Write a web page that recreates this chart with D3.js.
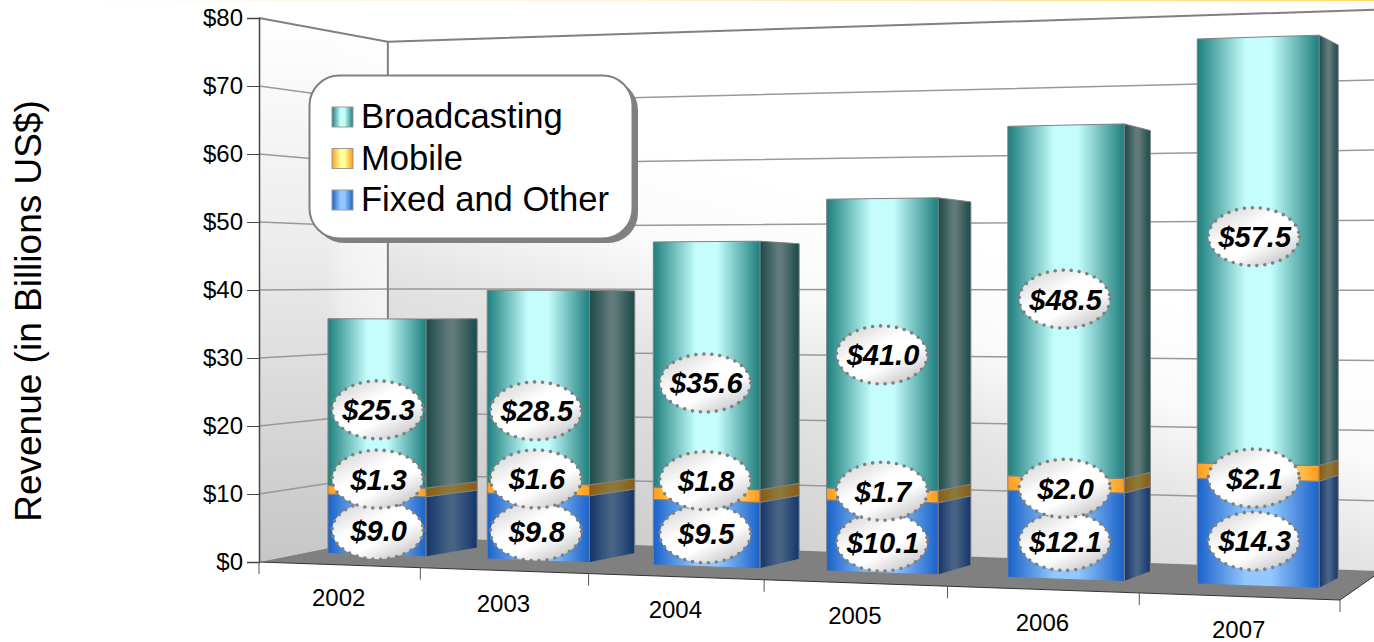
<!DOCTYPE html>
<html>
<head>
<meta charset="utf-8">
<script src="https://cdn.jsdelivr.net/npm/d3@7/dist/d3.min.js"></script>
<style>
html,body{margin:0;padding:0;background:#fff;overflow:hidden}
svg{display:block}
text{font-family:"Liberation Sans",Arial,sans-serif;fill:#000}
</style>
</head>
<body>
<svg id="c" width="1374" height="642"></svg>
<script>
// ---- data ----
const categories = ["2002","2003","2004","2005","2006","2007"];
const fixedValues = [9.0,9.8,9.5,10.1,12.1,14.3];
const mobileValues = [1.3,1.6,1.8,1.7,2.0,2.1];
const broadcastValues = [25.3,28.5,35.6,41.0,48.5,57.5];
const yTicks = [0,10,20,30,40,50,60,70,80];
const legendNames = ["Broadcasting","Mobile","Fixed and Other"];
// nudges (px) of the value bubbles from the middle of their segments
const fixedNudge = [5,4,0,5,6,8];
const mobileNudge = [-12,-10,-14,-4,4,6];
const broadcastNudge = [7,24,18,11,-2,-14];
const bubbleShift = [1,-2,-1,0,-1,-4];

// ---- projection ----
const svg = d3.select("#c");
const W = 1374, H = 642;
const VP = [1850,311];                // vanishing point of the depth direction
const R = 1.14, RH = 1.145;           // perspective ratio along the floor, and for heights
const axisY = d3.scaleLinear().domain([0,80]).range([562,18]);
const frontX = d3.scaleLinear().domain([0,1]).range([259,1340]);
const barX = d3.scaleLinear().domain([0,1]).range([257,1344]);
const frontEdgeY = d3.scaleLinear().domain([259,1340]).range([562,600]);
const lerp = (p,f)=>[p[0]+(VP[0]-p[0])*f, p[1]+(VP[1]-p[1])*f];
const persp = t => t/(t+(1-t)*R);

// u: position in category units (0..6); v: value; depth: fraction toward VP
const BAR_DEPTH = 0.026, SIDE_DEPTH = 0.036, GAP = 0.19, LIFT = 3.0, UNIT = 7.72;
function barPoint(u,v){
  const t = u/6, xf = barX(persp(t));
  const y = frontEdgeY(xf) - UNIT*v/(RH-(RH-1)*t);
  const p = lerp([xf,y],BAR_DEPTH);
  return [p[0],p[1]-LIFT];
}
const sidePoint = p => lerp(p,SIDE_DEPTH);

// walls
const WALL_DEPTH = 0.081;
const backLeftTop = lerp([259,axisY(80)],WALL_DEPTH);
const backLeftBot = lerp([259,axisY(0)-6],WALL_DEPTH);
const backRightTop = lerp([1340,-17],WALL_DEPTH);
const backRightBot = lerp([1340,600-6],WALL_DEPTH);
const backY = (x,v)=>{
  const f=(x-backLeftTop[0])/(backRightTop[0]-backLeftTop[0]);
  const top=backLeftTop[1]+(backRightTop[1]-backLeftTop[1])*f;
  const bot=backLeftBot[1]+(backRightBot[1]-backLeftBot[1])*f;
  return d3.scaleLinear().domain([0,80]).range([bot,top])(v);
};
const poly = pts => "M"+pts.map(p=>p.join(",")).join("L")+"Z";

// ---- gradients ----
const defs = svg.append("defs");
function hGrad(id,edge,mid,flat){
  const g=defs.append("linearGradient").attr("id",id).attr("x1",0).attr("x2",1).attr("y1",0).attr("y2",0);
  [[0,edge],[flat[0],mid],[flat[1],mid],[1,edge]].forEach(s=>g.append("stop").attr("offset",s[0]).attr("stop-color",s[1]));
}
const FLAT=[0.4,0.6];
hGrad("frontB","#1d7f7d","#c5fdfd",FLAT);
hGrad("frontM","#ff9a1c","#ffff99",FLAT);
hGrad("frontF","#1a62c8","#93c8ff",FLAT);
hGrad("sideB","#1a4a48","#627a7a",[0.45,0.55]);
hGrad("sideM","#8a5a10","#8c7a3a",[0.45,0.55]);
hGrad("sideF","#14346c","#476484",[0.45,0.55]);
function userGrad(id,a,b,stops){
  const g=defs.append("linearGradient").attr("id",id).attr("gradientUnits","userSpaceOnUse")
    .attr("x1",a[0]).attr("y1",a[1]).attr("x2",b[0]).attr("y2",b[1]);
  stops.forEach(s=>{
    const st=g.append("stop").attr("offset",s[0]).attr("stop-color",s[1]);
    if(s[2]!==undefined) st.attr("stop-opacity",s[2]);
  });
}
userGrad("wallBack",[480,544],[604,131],[[0,"#c8c8c8"],[0.555,"#e4e4e4"],[0.777,"#fafafa"],[1,"#ffffff"]]);
userGrad("wallLeft",[0,562],[0,18],[[0,"#c6c6c6"],[0.57,"#ebebeb"],[1,"#ffffff"]]);
userGrad("wallBand",[325,0],[388,0],[[0,"#ffffff",0],[0.3,"#ffffff",0.35],[1,"#ffffff",0.6]]);
userGrad("topLine",[0,0],[W,0],[[0,"#ffffff"],[0.5,"#fff0d0"],[1,"#ffd870"]]);
const bg=defs.append("linearGradient").attr("id","bubble").attr("x1",0.1).attr("y1",0).attr("x2",0.9).attr("y2",1);
[[0,"#d0d0d0"],[0.38,"#ffffff"],[0.62,"#ffffff"],[1,"#bcbcbc"]].forEach(s=>bg.append("stop").attr("offset",s[0]).attr("stop-color",s[1]));

svg.append("rect").attr("x",0).attr("y",0).attr("width",W).attr("height",1).attr("fill","url(#topLine)");

// ---- walls and floor ----
const leftWall = poly([[259,axisY(80)],backLeftTop,backLeftBot,[259,axisY(0)]]);
svg.append("path").attr("d",leftWall).attr("fill","url(#wallLeft)");
svg.append("path").attr("d",leftWall).attr("fill","url(#wallBand)");
svg.append("path").attr("d",poly([backLeftTop,backRightTop,backRightBot,backLeftBot])).attr("fill","url(#wallBack)");

const grid = svg.append("g").attr("fill","none");
yTicks.filter(v=>v>0).forEach(v=>{
  const left=[259,axisY(v)], corner=[backLeftTop[0],backY(backLeftTop[0],v)], right=[backRightTop[0],backY(backRightTop[0],v)];
  const top = v===80;
  grid.append("path").attr("d","M"+[left,corner,right].map(p=>p.join(",")).join("L"))
    .attr("stroke",top?"#808080":"#999999").attr("stroke-width",top?2:1.5);
});
grid.append("line").attr("x1",backLeftTop[0]).attr("x2",backLeftTop[0]).attr("y1",backLeftTop[1]).attr("y2",backLeftBot[1])
  .attr("stroke","#808080").attr("stroke-width",2);

svg.append("path").attr("d",poly([[259,axisY(0)],backLeftBot,backRightBot,[1340,600]])).attr("fill","#808080");

// ---- bars ----
const series = [
  {vals:fixedValues, front:"url(#frontF)", side:"url(#sideF)", nudge:fixedNudge},
  {vals:mobileValues, front:"url(#frontM)", side:"url(#sideM)", nudge:mobileNudge},
  {vals:broadcastValues, front:"url(#frontB)", side:"url(#sideB)", nudge:broadcastNudge}
];
const bars = svg.append("g");
const bubbles = [];
categories.forEach((cat,i)=>{
  let base=0;
  series.forEach(s=>{
    const v=s.vals[i], topV=base+v;
    const bl=barPoint(i+GAP,base), br=barPoint(i+1-GAP,base), tr=barPoint(i+1-GAP,topV), tl=barPoint(i+GAP,topV);
    bars.append("path").attr("d",poly([br,tr,sidePoint(tr),sidePoint(br)]))
      .attr("fill",s.side).attr("stroke","#808080").attr("stroke-width",1);
    bars.append("path").attr("d",poly([bl,br,tr,tl]))
      .attr("fill",s.front).attr("stroke","#808080").attr("stroke-width",1);
    const mid=barPoint(i+0.5,base+v/2);
    bubbles.push({x:mid[0]+bubbleShift[i],y:mid[1]+s.nudge[i],label:"$"+v.toFixed(1)});
    base=topV;
  });
});

// ---- axes ----
svg.append("path").attr("d","M259,"+axisY(0)+"L1340,600L"+backRightBot.join(",")).attr("fill","none").attr("stroke","#333").attr("stroke-width",1);
const yAxis = svg.append("g").attr("transform","translate(259,0)")
  .call(d3.axisLeft(axisY).tickValues(yTicks).tickFormat(d=>"$"+d).tickSize(12).tickPadding(4));
yAxis.select(".domain").attr("stroke","#444").attr("stroke-width",1.5);
yAxis.selectAll(".tick line").attr("stroke","#444").attr("stroke-width",1);
yAxis.selectAll("text").attr("font-size",24).style("font-family",'"Liberation Sans",Arial,sans-serif').attr("fill","#000");

d3.range(7).forEach(i=>{
  const x=frontX(persp(i/6)), y=frontEdgeY(x);
  svg.append("line").attr("x1",x).attr("x2",x).attr("y1",y).attr("y2",y+12).attr("stroke","#555").attr("stroke-width",1);
});
categories.forEach((cat,i)=>{
  const x=(frontX(persp(i/6))+frontX(persp((i+1)/6)))/2;
  svg.append("text").attr("x",x-1).attr("y",frontEdgeY(x)+33).attr("dy","0.35em")
    .attr("text-anchor","middle").attr("font-size",24).text(cat);
});
svg.append("text").attr("transform","translate(28,311) rotate(-90)").attr("text-anchor","middle").attr("dy","0.35em")
  .attr("font-size",37).text("Revenue (in Billions US$)");

// ---- legend ----
const legend = svg.append("g");
legend.append("rect").attr("x",314).attr("y",80).attr("width",324).attr("height",163).attr("rx",30).attr("fill","#808080");
legend.append("rect").attr("x",309.5).attr("y",75.5).attr("width",323).attr("height",163).attr("rx",30)
  .attr("fill","#fff").attr("stroke","#808080").attr("stroke-width",2);
const legendFill=["url(#frontB)","url(#frontM)","url(#frontF)"];
const legendY=d3.scalePoint().domain(legendNames).range([117,200]);
legendNames.forEach((n,i)=>{
  const y=legendY(n);
  legend.append("rect").attr("x",332).attr("y",y-10).attr("width",21).attr("height",20)
    .attr("fill",legendFill[i]).attr("stroke","#999").attr("stroke-width",1);
  legend.append("text").attr("x",361).attr("y",y).attr("dy","0.33em").attr("font-size",34.6).text(n);
});

// ---- value bubbles ----
const bub = svg.append("g").selectAll("g").data(bubbles).join("g")
  .attr("transform",d=>`translate(${d.x},${d.y})`);
bub.append("ellipse").attr("rx",45.5).attr("ry",29).attr("fill","url(#bubble)")
  .attr("stroke","#808080").attr("stroke-width",3.6).attr("stroke-linecap","round").attr("stroke-dasharray","0 8");
bub.append("text").attr("x",1).attr("text-anchor","middle").attr("dy","0.36em").attr("font-size",29)
  .attr("font-weight","bold").attr("font-style","italic").text(d=>d.label);
</script>
</body>
</html>
